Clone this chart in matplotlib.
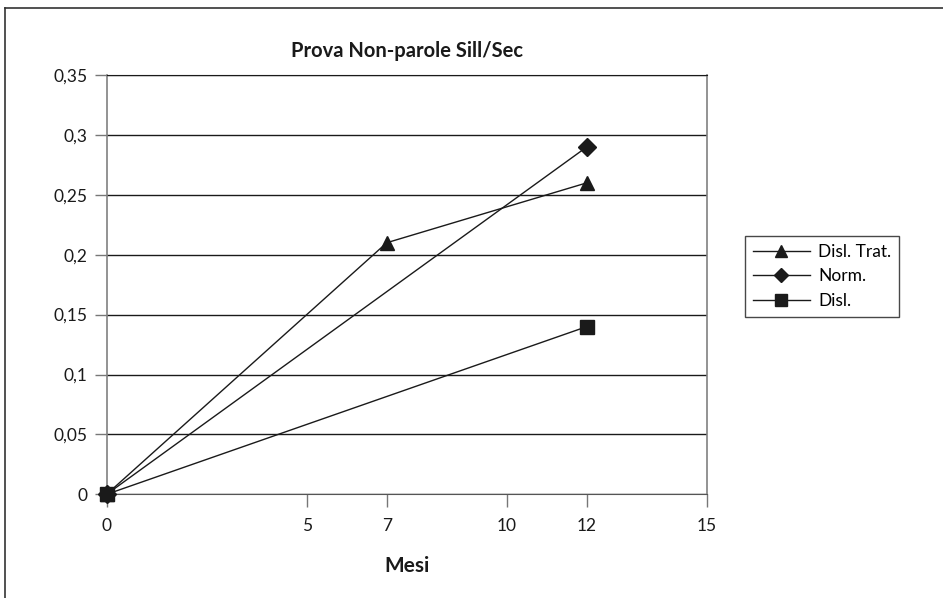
import matplotlib.pyplot as plt
from matplotlib.lines import Line2D
from matplotlib.ticker import FuncFormatter

plt.rcParams['font.family'] = ['Lato', 'DejaVu Sans']

# months and scores for each group
mesi_trat = [0, 7, 12]
disl_trat = [0, 0.21, 0.26]
mesi_norm = [0, 12]
norm = [0, 0.29]
mesi_disl = [0, 12]
disl = [0, 0.14]

x_ticks = [0, 5, 7, 10, 12, 15]
y_ticks = [0, 0.05, 0.1, 0.15, 0.2, 0.25, 0.3, 0.35]

ink = '#1a1a1a'

fig = plt.figure(figsize=(9.43, 5.98), dpi=100)
ax = fig.add_axes([0.1131, 0.1734, 0.6366, 0.7012])

ax.plot(mesi_disl, disl, color=ink, lw=1.0, marker='s', ms=10, label='Disl.', zorder=3, clip_on=False)
ax.plot(mesi_norm, norm, color=ink, lw=1.0, marker='D', ms=9.5, label='Norm.', zorder=3, clip_on=False)
ax.plot(mesi_trat, disl_trat, color=ink, lw=1.0, marker='^', ms=10, label='Disl. Trat.', zorder=3,
        clip_on=False)

ax.set_xlim(0, 15)
ax.set_ylim(0, 0.35)
ax.set_xticks(x_ticks)
ax.set_yticks(y_ticks)
ax.yaxis.set_major_formatter(FuncFormatter(lambda v, p: ('%g' % round(v, 2)).replace('.', ',')))
ax.xaxis.set_major_formatter(FuncFormatter(lambda v, p: '%d' % v))
ax.grid(axis='y', color=ink, lw=1.0)
ax.set_axisbelow(True)
ax.tick_params(direction='out', length=9, width=1, color='#777777', labelsize=12.5, colors=ink, pad=5)
ax.tick_params(axis='x', pad=8)
for side in ['left', 'right']:
    ax.spines[side].set_color('#808080')
    ax.spines[side].set_linewidth(1.2)
ax.spines['bottom'].set_color('#555555')
ax.spines['top'].set_color(ink)

ax.set_title('Prova Non-parole Sill/Sec', fontsize=14.5, fontweight='bold', color=ink, pad=13)
ax.set_xlabel('Mesi', fontsize=15, fontweight='bold', color=ink, labelpad=16)

# legend listed in the same order as the series names
handles, labels = ax.get_legend_handles_labels()
order = [2, 1, 0]
leg = fig.legend([handles[i] for i in order], [labels[i] for i in order],
                 loc='upper left', bbox_to_anchor=(745 / 943, 1 - 236 / 598),
                 fontsize=12.5, frameon=True, fancybox=False, edgecolor=ink,
                 handlelength=3.3, markerscale=0.8, borderpad=0.45, labelspacing=0.5,
                 handletextpad=0.45, borderaxespad=0)
leg.get_frame().set_linewidth(1.0)

# outer chart border on the left and top edges
fig.add_artist(Line2D([5 / 943, 5 / 943], [0, 1 - 8 / 598], color='#333333', lw=1.2))
fig.add_artist(Line2D([5 / 943, 1], [1 - 8 / 598, 1 - 8 / 598], color='#333333', lw=1.2))

fig.savefig('out.png', dpi=100)
